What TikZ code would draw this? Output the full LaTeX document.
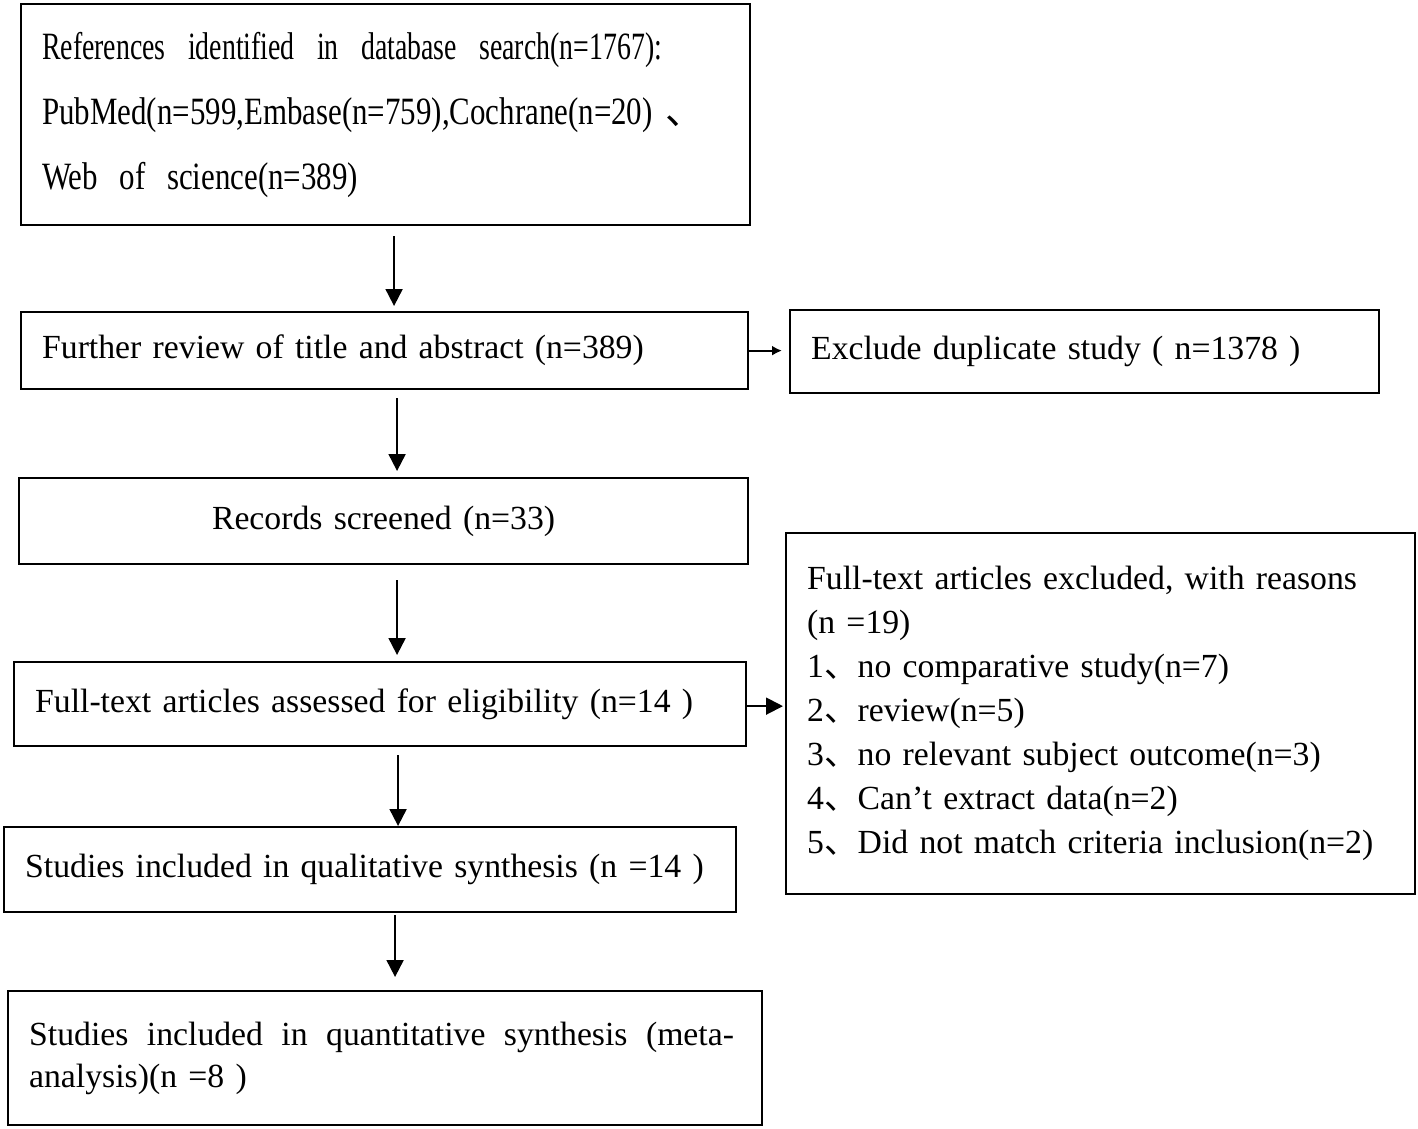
\documentclass[tikz,border=0pt]{standalone}
\usepackage{fontspec}
\setmainfont{Liberation Serif}
\newfontfamily\condfont[FakeStretch=0.8]{Liberation Serif}
\newfontfamily\narrowfont[FakeStretch=0.72]{Liberation Serif}
\newfontfamily\cjk{Noto Sans CJK SC}
\usetikzlibrary{arrows.meta}

% one line spread out to a given width
\newcommand{\spreadline}[2]{\makebox[#1][s]{\spaceskip=0.1em plus 1fil\relax #2}}

\tikzset{
  box/.style={draw, line width=1.3pt, anchor=north west, align=left,
    inner xsep=0.42cm, inner ysep=0pt, font=\fontsize{19.2}{25}\selectfont},
  arr/.style={line width=1.1pt, -{Triangle[length=0.34cm,width=0.34cm]}},
  smallarr/.style={line width=1.1pt, -{Latex[length=0.2cm,width=0.2cm]}}
}

\begin{document}
\begin{tikzpicture}[x=0.02cm,y=-0.02cm]
    \useasboundingbox (0,0) rectangle (1418,1129);
    % main column
    \node[box, minimum width=14.58cm, minimum height=4.42cm, text width=13.74cm,
      font=\condfont\fontsize{22}{37}\selectfont] (refs) at (20,3)
      {\spreadline{12.4cm}{\narrowfont References identified in database search(n=1767):}\\
       PubMed(n=599,Embase(n=759),Cochrane(n=20) {\cjk 、}\\
       \spreadline{6.32cm}{Web of science(n=389)}};
    \node[box, minimum width=14.54cm, minimum height=1.54cm, text width=13.70cm] (review) at (20,311)
      {Further review of title and abstract (n=389)};
    \node[box, minimum width=14.58cm, minimum height=1.72cm, text width=13.74cm, align=center] (screened) at (18,477)
      {Records screened (n=33)};
    \node[box, minimum width=14.64cm, minimum height=1.68cm, text width=13.80cm] (fulltext) at (13,661)
      {Full-text articles assessed for eligibility (n=14 )};
    \node[box, minimum width=14.64cm, minimum height=1.70cm, text width=13.80cm] (qualit) at (3,826)
      {Studies included in qualitative synthesis (n =14 )};
    \node[box, minimum width=15.08cm, minimum height=2.68cm, text width=14.24cm,
      font=\fontsize{19.2}{24}\selectfont] (quantit) at (7,990)
      {\spreadline{14.1cm}{Studies included in quantitative synthesis (meta-}\\analysis)(n =8 )};
    % side boxes
    \node[box, minimum width=11.78cm, minimum height=1.66cm, text width=10.94cm] (dup) at (789,309)
      {Exclude duplicate study ( n=1378 )};
    \node[box, minimum width=12.58cm, minimum height=7.22cm, text width=11.74cm] (excl) at (785,532)
      {Full-text articles excluded, with reasons\\(n =19)\\
       1{\cjk 、}no comparative study(n=7)\\
       2{\cjk 、}review(n=5)\\
       3{\cjk 、}no relevant subject outcome(n=3)\\
       4{\cjk 、}Can’t extract data(n=2)\\
       5{\cjk 、}Did not match criteria inclusion(n=2)};
    % arrows
    \draw[arr, shorten <=0.2cm, shorten >=0.1cm] ([xshift=0.17cm]refs.south) -- ([xshift=0.17cm]refs.south |- review.north);
    \draw[arr, shorten <=0.16cm, shorten >=0.12cm] ([xshift=0.25cm]review.south) -- ([xshift=0.25cm]review.south |- screened.north);
    \draw[arr, shorten <=0.3cm, shorten >=0.12cm] ([xshift=0.27cm]screened.south) -- ([xshift=0.27cm]screened.south |- fulltext.north);
    \draw[arr, shorten <=0.16cm] ([xshift=0.36cm]fulltext.south) -- ([xshift=0.36cm]fulltext.south |- qualit.north);
    \draw[arr, shorten <=0.04cm, shorten >=0.26cm] ([xshift=0.5cm]qualit.south) -- ([xshift=0.5cm]qualit.south |- quantit.north);
    \draw[smallarr, shorten >=0.14cm] (review.east) -- (review.east -| dup.west);
    \draw[arr, shorten >=0.04cm] ([yshift=-0.04cm]fulltext.east) -- ([yshift=-0.04cm]fulltext.east -| excl.west);
\end{tikzpicture}
\end{document}
